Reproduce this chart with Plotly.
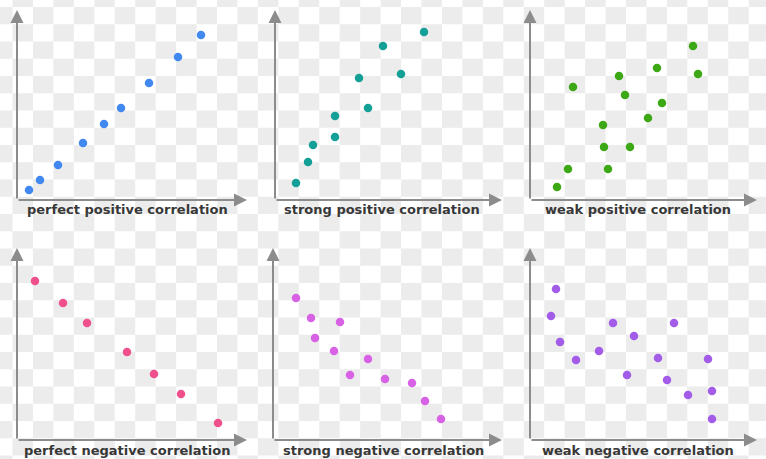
import plotly.graph_objects as go

# ---------------- data (arbitrary units: 1 unit = one tenth of a grid cell) ----------------
titles = [
    "perfect positive correlation",
    "strong positive correlation",
    "weak positive correlation",
    "perfect negative correlation",
    "strong negative correlation",
    "weak negative correlation",
]

perfect_pos_x = [1.2, 2.3, 4.1, 6.6, 8.7, 10.4, 13.2, 16.1, 18.4]
perfect_pos_y = [1.0, 2.0, 3.5, 5.7, 7.6, 9.2, 11.7, 14.3, 16.5]

strong_pos_x = [2.1, 3.3, 3.8, 6.0, 6.0, 9.3, 8.4, 12.6, 10.8, 14.9]
strong_pos_y = [1.7, 3.8, 5.5, 6.3, 8.4, 9.2, 12.2, 12.6, 15.4, 16.8]

weak_pos_x = [2.7, 3.8, 4.3, 7.8, 7.4, 10.0, 7.3, 9.5, 8.9, 11.8, 13.2, 12.7, 16.3, 16.8]
weak_pos_y = [1.3, 3.1, 11.3, 3.1, 5.3, 5.3, 7.5, 10.5, 12.4, 8.2, 9.7, 13.2, 15.4, 12.6]

perfect_neg_x = [1.8, 4.6, 7.0, 11.0, 13.7, 16.4, 20.1]
perfect_neg_y = [15.9, 13.7, 11.7, 8.8, 6.6, 4.6, 1.7]

strong_neg_x = [2.3, 3.8, 6.7, 4.2, 6.1, 9.5, 7.7, 11.2, 13.9, 15.2, 16.8]
strong_neg_y = [14.2, 12.2, 11.8, 10.2, 8.9, 8.1, 6.5, 6.1, 5.7, 3.9, 2.1]

weak_neg_x = [2.6, 2.1, 3.0, 4.6, 6.9, 8.3, 9.7, 10.4, 12.8, 14.4, 13.7, 15.8, 17.8, 18.2, 18.2]
weak_neg_y = [15.1, 12.4, 9.8, 8.0, 8.9, 11.7, 6.5, 10.4, 8.2, 11.7, 6.0, 4.5, 8.1, 4.9, 2.1]

series_x = [perfect_pos_x, strong_pos_x, weak_pos_x, perfect_neg_x, strong_neg_x, weak_neg_x]
series_y = [perfect_pos_y, strong_pos_y, weak_pos_y, perfect_neg_y, strong_neg_y, weak_neg_y]

# ---------------- styling / layout ----------------
W, H = 766, 459
colors = ["#4189f0", "#14a096", "#3ca815", "#f0508c", "#d862e6", "#a25ce8"]
# panel geometry in pixels: (axis x start, arrow tip x, axis y (bottom), arrow tip y (top))
geo = [(17, 247, 200, 10), (275, 502, 200, 10), (530, 757, 200, 10),
       (17, 247, 440, 248), (273, 502, 440, 248), (530, 757, 440, 248)]
label_pos = [(127, 210), (382, 210), (638, 210), (127, 450), (383, 450), (638, 450)]
UNIT = 10.0
axis_col = "#8c8c8c"

fig = go.Figure()
annotations = []
layout = dict(
    width=W, height=H,
    margin=dict(l=0, r=0, t=0, b=0),
    paper_bgcolor="white",
    plot_bgcolor="rgba(0,0,0,0)",
    showlegend=False,
)

for i in range(6):
    n = "" if i == 0 else str(i + 1)
    xid, yid = "x" + n, "y" + n
    x0, x1, yb, yt = geo[i]
    xmax = (x1 - x0) / UNIT
    ymax = (yb - yt) / UNIT
    layout["xaxis" + n] = dict(domain=[x0 / W, x1 / W], range=[0, xmax], visible=False,
                               fixedrange=True, anchor=yid)
    layout["yaxis" + n] = dict(domain=[1 - yb / H, 1 - yt / H], range=[0, ymax], visible=False,
                               fixedrange=True, anchor=xid)
    fig.add_trace(go.Scatter(
        x=series_x[i], y=series_y[i], mode="markers",
        marker=dict(size=8.5, color=colors[i], line=dict(width=0)),
        xaxis=xid, yaxis=yid, cliponaxis=False, hoverinfo="skip",
    ))
    # arrow axes
    for (tx, ty) in [(xmax, 0), (0, ymax)]:
        annotations.append(dict(
            x=tx, y=ty, ax=0, ay=0, xref=xid, yref=yid, axref=xid, ayref=yid,
            text="", showarrow=True, arrowhead=2, arrowsize=1.3, arrowwidth=2,
            arrowcolor=axis_col, standoff=0, startstandoff=0,
        ))
    cx, cy = label_pos[i]
    annotations.append(dict(
        x=cx / W, y=1 - cy / H, xref="paper", yref="paper", text=titles[i],
        showarrow=False, xanchor="center", yanchor="middle",
        font=dict(family="DejaVu Sans", size=13, color="#383838", weight="bold"),
    ))

# checkerboard background (decorative)
cw, ch = 20.45, 17.25
gx0, gy0 = 12.5, 7.0
parts = []
for r in range(-1, 27):
    for c in range(-1, 38):
        if (r + c) % 2 != 1:
            continue
        xa = max(0.0, gx0 + c * cw); xb = min(W, gx0 + (c + 1) * cw)
        ya = max(0.0, gy0 + r * ch); yb2 = min(H, gy0 + (r + 1) * ch)
        if xb <= xa or yb2 <= ya:
            continue
        parts.append("M%.5f,%.5f H%.5f V%.5f H%.5f Z" % (xa / W, 1 - ya / H, xb / W, 1 - yb2 / H, xa / W))
shapes = [dict(type="path", xref="paper", yref="paper", path=" ".join(parts),
               fillcolor="#ececec", line=dict(width=0), layer="below")]

layout["annotations"] = annotations
layout["shapes"] = shapes
fig.update_layout(**layout)
fig.write_html(
    "out.html",
    config={"displayModeBar": False, "staticPlot": True},
    post_script="document.body.style.margin='0';document.body.style.padding='0';"
                "document.documentElement.style.overflow='hidden';",
)
